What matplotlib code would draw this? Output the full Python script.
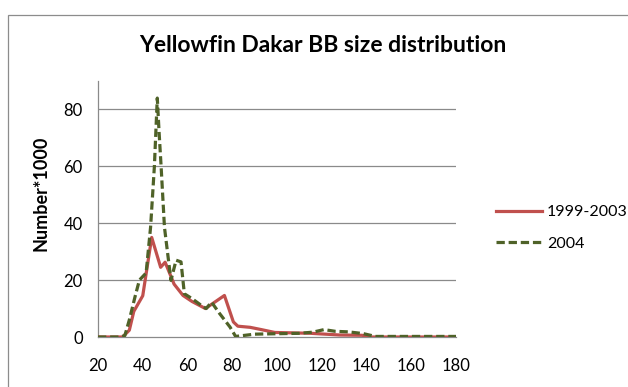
import matplotlib
matplotlib.use("Agg")
from matplotlib import pyplot as plt
from matplotlib.patches import Rectangle

# ---------------------------------------------------------------------------------------------------
# Data
# ---------------------------------------------------------------------------------------------------
size_9903 = [20, 31, 34, 36, 40, 44, 48, 50, 54, 58, 62, 68, 76.5, 80.5, 82.5, 88, 93, 99, 115, 128, 138, 142, 180]
num_9903 = [0, 0, 2.4, 9, 14.5, 35, 24.5, 26.3, 18.6, 14.6, 12.5, 10, 14.6, 5.3, 3.8, 3.4, 2.6, 1.6, 1.3, 0.7, 0.6, 0, 0]

size_2004 = [20, 30, 32, 34, 36.5, 38.5, 41.5, 43.5, 45.2, 46.5, 47.3, 48.2, 49.7, 52.6, 54.9, 57.1, 58.6, 62, 66,
             68.4, 70.7, 74.4, 79, 81.5, 90, 110, 116, 121, 126, 132, 138.5, 144, 180]
num_2004 = [0, 0, 0.5, 6, 14, 20, 22.5, 38.6, 60, 84, 72, 60, 38.6, 19.9, 27, 26.4, 15.2, 13.5, 11.2,
            10, 12.3, 8.2, 3.5, 0.2, 1.0, 1.3, 1.7, 2.6, 2.0, 1.8, 1.2, 0.2, 0.2]

x_ticks = [20, 40, 60, 80, 100, 120, 140, 160, 180]
y_ticks = [0, 20, 40, 60, 80]

# ---------------------------------------------------------------------------------------------------
# Plot
# ---------------------------------------------------------------------------------------------------
plt.rcParams["font.family"] = ["Lato", "DejaVu Sans"]
W, H = 628, 387
fig = plt.figure(figsize=(W / 100, H / 100), dpi=100)

# chart area border (cut off at right / bottom)
fig.patches.append(Rectangle((8 / W, -0.1), 1.0, 1 - 15 / H + 0.1, transform=fig.transFigure,
                             fill=False, edgecolor="#8c8c8c", linewidth=0.9))

ax = fig.add_axes([98 / W, (H - 337) / H, 358 / W, 256 / H])
grid_col = "#8a8a8a"

ax.plot(size_9903, num_9903, color="#C0504D", linewidth=2.3, label="1999-2003", zorder=3)
ax.plot(size_2004, num_2004, color="#4F6228", linewidth=2.3, dashes=(2.6, 1.2), label="2004", zorder=4)

ax.set_xlim(20, 180)
ax.set_ylim(0, 90)
ax.set_xticks(x_ticks)
ax.set_yticks(y_ticks)
ax.tick_params(axis="x", length=0, pad=15, labelsize=12)
ax.tick_params(axis="y", length=0, pad=11, labelsize=12)
for y in y_ticks[1:]:
    ax.axhline(y, color=grid_col, linewidth=0.9, zorder=1)

for s in ["top", "right"]:
    ax.spines[s].set_visible(False)
ax.spines["left"].set_color(grid_col)
ax.spines["bottom"].set_color(grid_col)
ax.spines["left"].set_linewidth(0.9)
ax.spines["bottom"].set_linewidth(0.9)

ax.yaxis.set_label_coords(41 / W, 1 - 210 / H, transform=fig.transFigure)
ax.set_ylabel("Number*1000", fontsize=13, fontweight="bold", va="center")
fig.text(323 / W, 1 - 45 / H, "Yellowfin Dakar BB size distribution", ha="center", va="center",
         fontsize=16.5, fontweight="bold")

ax.legend(loc="center left", bbox_to_anchor=(496 / W, 1 - 228 / H), bbox_transform=fig.transFigure,
          frameon=False, fontsize=11.5, handlelength=2.9, handletextpad=0.3, labelspacing=1.1,
          borderpad=0, borderaxespad=0)

fig.savefig("out.png", dpi=100)
